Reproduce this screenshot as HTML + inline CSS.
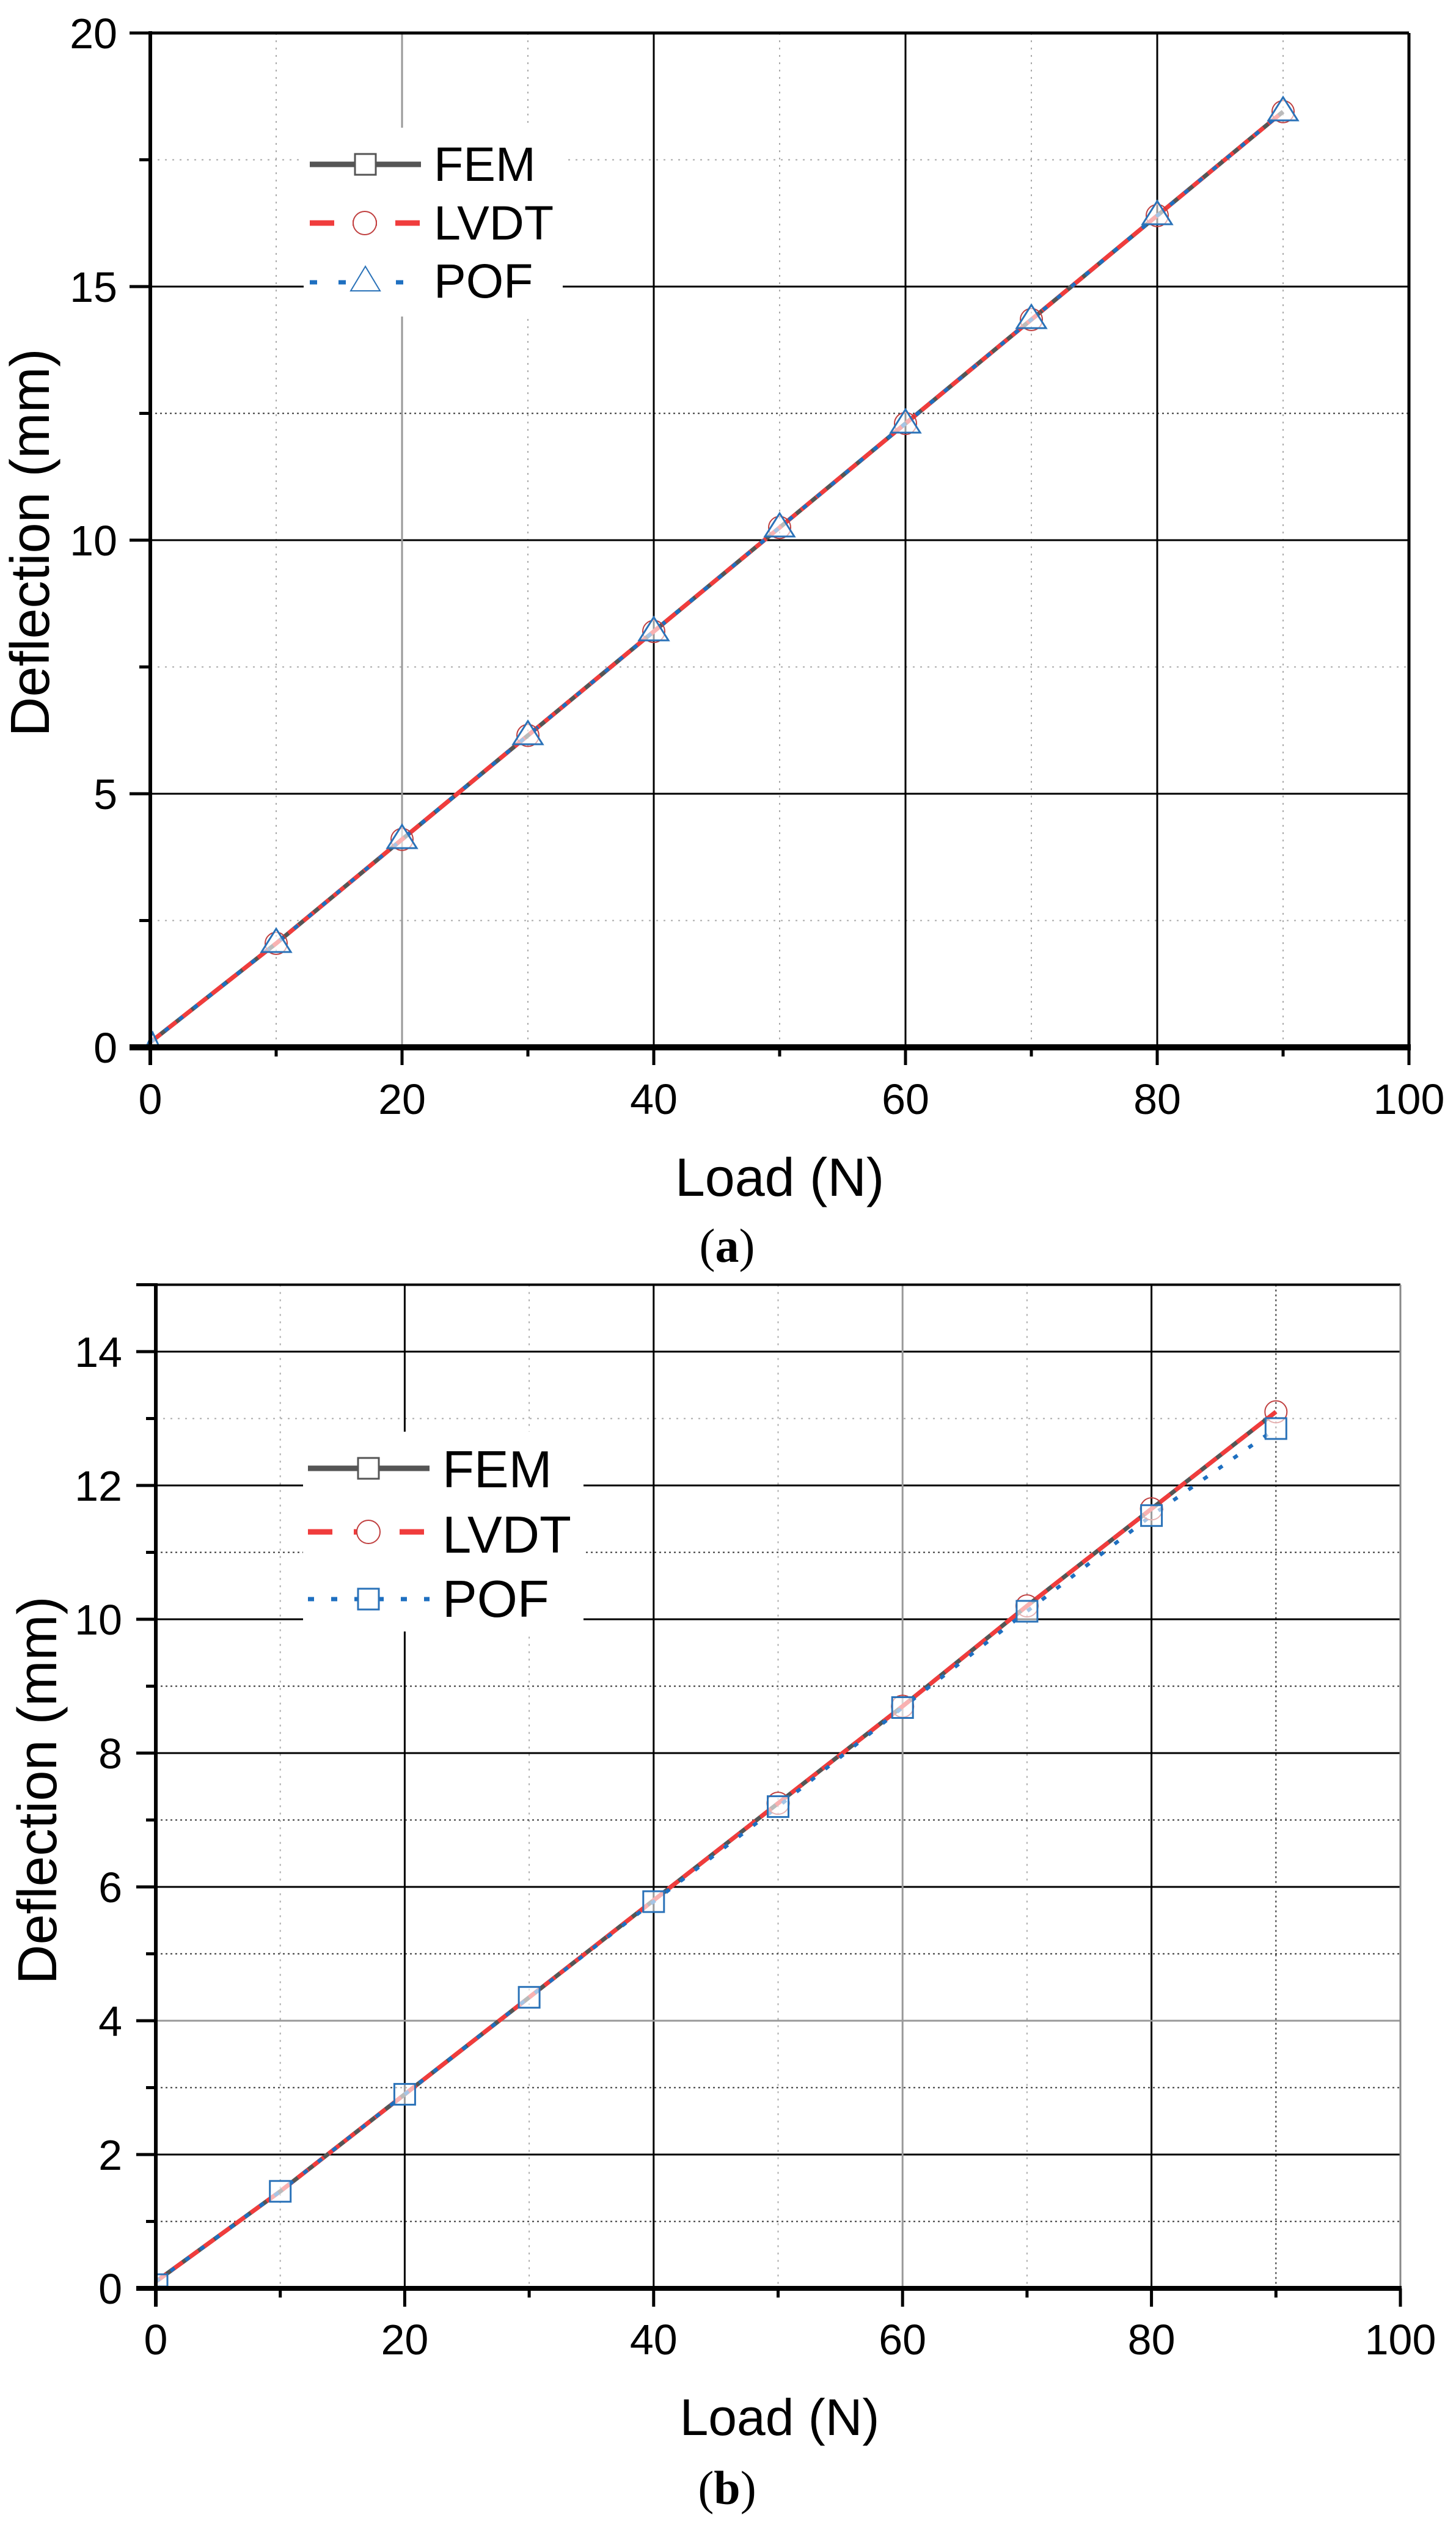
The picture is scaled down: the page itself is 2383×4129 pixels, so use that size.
<!DOCTYPE html>
<html><head><style>html,body{margin:0;padding:0;background:#fff}svg{display:block}</style></head>
<body>
<svg width="2383" height="4129" viewBox="0 0 2383 4129" xmlns="http://www.w3.org/2000/svg" font-family="Liberation Sans, Arial, sans-serif">
<rect width="2383" height="4129" fill="#fff"/>
<!-- ========== PLOT A ========== -->
<g>
<g stroke="#aaa" stroke-width="2" stroke-dasharray="3,9">
<line x1="452" y1="54" x2="452" y2="1714"/><line x1="864" y1="54" x2="864" y2="1714"/><line x1="1276" y1="54" x2="1276" y2="1714"/><line x1="1688" y1="54" x2="1688" y2="1714"/><line x1="2100" y1="54" x2="2100" y2="1714"/>
<line x1="246" y1="1506.5" x2="2306" y2="1506.5"/><line x1="246" y1="1091.5" x2="2306" y2="1091.5"/><line x1="246" y1="261.5" x2="2306" y2="261.5"/>
</g>
<line x1="246" y1="676.5" x2="2306" y2="676.5" stroke="#333" stroke-width="2" stroke-dasharray="3,5"/>
<g stroke="#000" stroke-width="3">
<line x1="1070" y1="54" x2="1070" y2="1714"/><line x1="1482" y1="54" x2="1482" y2="1714"/><line x1="1894" y1="54" x2="1894" y2="1714"/>
<line x1="246" y1="1299" x2="2306" y2="1299"/><line x1="246" y1="884" x2="2306" y2="884"/><line x1="246" y1="469" x2="2306" y2="469"/>
</g>
<line x1="658" y1="54" x2="658" y2="1714" stroke="#999" stroke-width="3"/>
<rect x="497" y="209" width="424" height="309" fill="#fff"/>
<polyline fill="none" stroke="#555" stroke-width="7" points="246,1705.7 452,1543.9 658,1373.7 864,1203.6 1070,1033.4 1276,863.3 1482,693.1 1688,523 1894,352.8 2100,182.7"/>
<polyline fill="none" stroke="#f03c3c" stroke-width="7" stroke-dasharray="22,10" points="246,1705.7 452,1543.9 658,1373.7 864,1203.6 1070,1033.4 1276,863.3 1482,693.1 1688,523 1894,352.8 2100,182.7"/>
<polyline fill="none" stroke="#1e6fc0" stroke-width="6" stroke-dasharray="8,22" points="246,1705.7 452,1543.9 658,1373.7 864,1203.6 1070,1033.4 1276,863.3 1482,693.1 1688,523 1894,352.8 2100,182.7"/>
<g fill="none" stroke="#c04040" stroke-width="2">
<circle cx="452" cy="1543.9" r="18"/><circle cx="658" cy="1373.7" r="18"/><circle cx="864" cy="1203.6" r="18"/><circle cx="1070" cy="1033.4" r="18"/><circle cx="1276" cy="863.3" r="18"/><circle cx="1482" cy="693.1" r="18"/><circle cx="1688" cy="523" r="18"/><circle cx="1894" cy="352.8" r="18"/><circle cx="2100" cy="182.7" r="18"/>
</g>
<g fill="rgba(255,255,255,0.6)" stroke="#2a72b8" stroke-width="3">
<polygon points="452,1520 428,1558 476,1558"/><polygon points="658,1350 634,1388 682,1388"/><polygon points="864,1180 840,1218 888,1218"/><polygon points="1070,1010 1046,1048 1094,1048"/><polygon points="1276,840 1252,878 1300,878"/><polygon points="1482,670 1458,708 1506,708"/><polygon points="1688,499 1664,537 1712,537"/><polygon points="1894,329 1870,367 1918,367"/><polygon points="2100,159 2076,197 2124,197"/>
<polygon points="250,1690 240,1712 260,1712"/>
</g>
<line x1="507" y1="269" x2="689" y2="269" stroke="#555" stroke-width="9"/>
<rect x="581" y="252" width="34" height="34" fill="#fff" stroke="#555" stroke-width="3"/>
<line x1="507" y1="365" x2="689" y2="365" stroke="#f03c3c" stroke-width="9" stroke-dasharray="40,30"/>
<circle cx="597" cy="365" r="19" fill="#fff" stroke="#c04040" stroke-width="2"/>
<line x1="507" y1="462" x2="689" y2="462" stroke="#1e6fc0" stroke-width="7" stroke-dasharray="12,35"/>
<polygon points="598,436 574,476 622,476" fill="#fff" stroke="#2a72b8" stroke-width="2"/>
<g font-size="79" fill="#000"><text x="710" y="296">FEM</text><text x="710" y="392">LVDT</text><text x="710" y="487">POF</text></g>
<g stroke="#000">
<line x1="246" y1="54" x2="2306" y2="54" stroke-width="5"/>
<line x1="2306" y1="54" x2="2306" y2="1714" stroke-width="5"/>
<line x1="246" y1="51" x2="246" y2="1743" stroke-width="6"/>
<line x1="212" y1="1714" x2="2309" y2="1714" stroke-width="10"/>
<g stroke-width="5">
<line x1="212" y1="54" x2="246" y2="54"/><line x1="212" y1="469" x2="246" y2="469"/><line x1="212" y1="884" x2="246" y2="884"/><line x1="212" y1="1299" x2="246" y2="1299"/>
<line x1="228" y1="261.5" x2="246" y2="261.5"/><line x1="228" y1="676.5" x2="246" y2="676.5"/><line x1="228" y1="1091.5" x2="246" y2="1091.5"/><line x1="228" y1="1506.5" x2="246" y2="1506.5"/>
<line x1="658" y1="1714" x2="658" y2="1743"/><line x1="1070" y1="1714" x2="1070" y2="1743"/><line x1="1482" y1="1714" x2="1482" y2="1743"/><line x1="1894" y1="1714" x2="1894" y2="1743"/><line x1="2306" y1="1714" x2="2306" y2="1743"/>
<line x1="452" y1="1714" x2="452" y2="1729"/><line x1="864" y1="1714" x2="864" y2="1729"/><line x1="1276" y1="1714" x2="1276" y2="1729"/><line x1="1688" y1="1714" x2="1688" y2="1729"/><line x1="2100" y1="1714" x2="2100" y2="1729"/>
</g></g>
<g font-size="70" fill="#000" text-anchor="end">
<text x="192" y="79">20</text><text x="192" y="494">15</text><text x="192" y="909">10</text><text x="192" y="1324">5</text><text x="192" y="1739">0</text>
</g>
<g font-size="70" fill="#000" text-anchor="middle">
<text x="246" y="1823">0</text><text x="658" y="1823">20</text><text x="1070" y="1823">40</text><text x="1482" y="1823">60</text><text x="1894" y="1823">80</text><text x="2306" y="1823">100</text>
</g>
<text x="1276" y="1957" font-size="88" text-anchor="middle">Load (N)</text>
<text transform="translate(80,888) rotate(-90)" font-size="90" text-anchor="middle">Deflection (mm)</text>
<text x="1190" y="2065" font-size="78" text-anchor="middle" font-family="Liberation Serif, serif">(<tspan font-weight="bold">a</tspan>)</text>
</g>

<!-- ========== PLOT B ========== -->
<g>
<g stroke="#aaa" stroke-width="2" stroke-dasharray="3,9">
<line x1="458.7" y1="2102.5" x2="458.7" y2="3745"/><line x1="866.1" y1="2102.5" x2="866.1" y2="3745"/><line x1="1273.5" y1="2102.5" x2="1273.5" y2="3745"/><line x1="1680.9" y1="2102.5" x2="1680.9" y2="3745"/>
<line x1="255" y1="2321.5" x2="2292" y2="2321.5"/>
</g>
<g stroke="#333" stroke-width="2" stroke-dasharray="3,5">
<line x1="2088.3" y1="2102.5" x2="2088.3" y2="3745"/>
<line x1="255" y1="3635.5" x2="2292" y2="3635.5"/><line x1="255" y1="3416.5" x2="2292" y2="3416.5"/><line x1="255" y1="3197.5" x2="2292" y2="3197.5"/><line x1="255" y1="2978.5" x2="2292" y2="2978.5"/><line x1="255" y1="2759.5" x2="2292" y2="2759.5"/><line x1="255" y1="2540.5" x2="2292" y2="2540.5"/>
</g>
<g stroke="#000" stroke-width="3">
<line x1="662.4" y1="2102.5" x2="662.4" y2="3745"/><line x1="1069.8" y1="2102.5" x2="1069.8" y2="3745"/><line x1="1884.6" y1="2102.5" x2="1884.6" y2="3745"/>
<line x1="255" y1="3526" x2="2292" y2="3526"/><line x1="255" y1="3088" x2="2292" y2="3088"/><line x1="255" y1="2869" x2="2292" y2="2869"/><line x1="255" y1="2650" x2="2292" y2="2650"/><line x1="255" y1="2431" x2="2292" y2="2431"/><line x1="255" y1="2212" x2="2292" y2="2212"/>
</g>
<g stroke="#999" stroke-width="3">
<line x1="1477.2" y1="2102.5" x2="1477.2" y2="3745"/><line x1="255" y1="3307" x2="2292" y2="3307"/>
</g>
<rect x="496" y="2343" width="459" height="327" fill="#fff"/>
<polyline fill="none" stroke="#555" stroke-width="7" points="255,3734 458.7,3586.2 662.4,3427.4 866.1,3268.7 1069.8,3109.9 1273.5,2951.1 1477.2,2792.4 1680.9,2628.1 1884.6,2469.3 2088.3,2310.5"/>
<polyline fill="none" stroke="#f03c3c" stroke-width="7" stroke-dasharray="22,10" points="255,3734 458.7,3586.2 662.4,3427.4 866.1,3268.7 1069.8,3109.9 1273.5,2951.1 1477.2,2792.4 1680.9,2628.1 1884.6,2469.3 2088.3,2310.5"/>
<polyline fill="none" stroke="#1e6fc0" stroke-width="6" stroke-dasharray="8,22" points="255,3734 458.7,3586.2 662.4,3427.4 866.1,3268.7 1069.8,3112.1 1273.5,2956.6 1477.2,2794.5 1680.9,2636.9 1884.6,2480.3 2088.3,2337.9"/>
<g fill="none" stroke="#c04040" stroke-width="2">
<circle cx="1273.5" cy="2951.1" r="18"/><circle cx="1477.2" cy="2792.4" r="18"/><circle cx="1680.9" cy="2628.1" r="18"/><circle cx="1884.6" cy="2469.3" r="18"/><circle cx="2088.3" cy="2310.5" r="18"/>
</g>
<g fill="rgba(255,255,255,0.6)" stroke="#2a72b8" stroke-width="3">
<rect x="441.7" y="3569.2" width="34" height="34"/><rect x="645.4" y="3410.4" width="34" height="34"/><rect x="849.1" y="3251.7" width="34" height="34"/><rect x="1052.8" y="3095.1" width="34" height="34"/><rect x="1256.5" y="2939.6" width="34" height="34"/><rect x="1460.2" y="2777.5" width="34" height="34"/><rect x="1663.9" y="2619.9" width="34" height="34"/><rect x="1867.6" y="2463.3" width="34" height="34"/><rect x="2071.3" y="2320.9" width="34" height="34"/>
<rect x="256" y="3722" width="18" height="20"/>
</g>
<line x1="504" y1="2403" x2="703" y2="2403" stroke="#555" stroke-width="9"/>
<rect x="586" y="2386" width="34" height="34" fill="#fff" stroke="#555" stroke-width="3"/>
<line x1="504" y1="2507" x2="703" y2="2507" stroke="#f03c3c" stroke-width="9" stroke-dasharray="40,35"/>
<circle cx="603" cy="2507" r="19" fill="#fff" stroke="#c04040" stroke-width="2"/>
<line x1="504" y1="2617" x2="703" y2="2617" stroke="#1e6fc0" stroke-width="7" stroke-dasharray="10,28"/>
<rect x="586" y="2600" width="34" height="34" fill="#fff" stroke="#2a72b8" stroke-width="3"/>
<g font-size="85" fill="#000"><text x="724" y="2434">FEM</text><text x="724" y="2541">LVDT</text><text x="724" y="2646">POF</text></g>
<g stroke="#000">
<line x1="255" y1="2102.5" x2="2292" y2="2102.5" stroke-width="4"/>
<line x1="2292" y1="2102.5" x2="2292" y2="3745" stroke="#888" stroke-width="3"/>
<line x1="255" y1="2100" x2="255" y2="3775" stroke-width="6"/>
<line x1="223" y1="3745" x2="2294" y2="3745" stroke-width="8"/>
<g stroke-width="5">
<line x1="223" y1="2102.5" x2="255" y2="2102.5"/><line x1="223" y1="2212" x2="255" y2="2212"/><line x1="223" y1="2431" x2="255" y2="2431"/><line x1="223" y1="2650" x2="255" y2="2650"/><line x1="223" y1="2869" x2="255" y2="2869"/><line x1="223" y1="3088" x2="255" y2="3088"/><line x1="223" y1="3307" x2="255" y2="3307"/><line x1="223" y1="3526" x2="255" y2="3526"/>
<line x1="239" y1="2321.5" x2="255" y2="2321.5"/><line x1="239" y1="2540.5" x2="255" y2="2540.5"/><line x1="239" y1="2759.5" x2="255" y2="2759.5"/><line x1="239" y1="2978.5" x2="255" y2="2978.5"/><line x1="239" y1="3197.5" x2="255" y2="3197.5"/><line x1="239" y1="3416.5" x2="255" y2="3416.5"/><line x1="239" y1="3635.5" x2="255" y2="3635.5"/>
<line x1="662.4" y1="3745" x2="662.4" y2="3775"/><line x1="1069.8" y1="3745" x2="1069.8" y2="3775"/><line x1="1477.2" y1="3745" x2="1477.2" y2="3775"/><line x1="1884.6" y1="3745" x2="1884.6" y2="3775"/><line x1="2292" y1="3745" x2="2292" y2="3775"/>
<line x1="458.7" y1="3745" x2="458.7" y2="3760"/><line x1="866.1" y1="3745" x2="866.1" y2="3760"/><line x1="1273.5" y1="3745" x2="1273.5" y2="3760"/><line x1="1680.9" y1="3745" x2="1680.9" y2="3760"/><line x1="2088.3" y1="3745" x2="2088.3" y2="3760"/>
</g></g>
<g font-size="70" fill="#000" text-anchor="end">
<text x="200" y="2237">14</text><text x="200" y="2456">12</text><text x="200" y="2675">10</text><text x="200" y="2894">8</text><text x="200" y="3113">6</text><text x="200" y="3332">4</text><text x="200" y="3551">2</text><text x="200" y="3770">0</text>
</g>
<g font-size="70" fill="#000" text-anchor="middle">
<text x="255" y="3853">0</text><text x="662.4" y="3853">20</text><text x="1069.8" y="3853">40</text><text x="1477.2" y="3853">60</text><text x="1884.6" y="3853">80</text><text x="2292" y="3853">100</text>
</g>
<text x="1276" y="3985" font-size="84" text-anchor="middle">Load (N)</text>
<text transform="translate(92,2930) rotate(-90)" font-size="90" text-anchor="middle">Deflection (mm)</text>
<text x="1190" y="4098" font-size="78" text-anchor="middle" font-family="Liberation Serif, serif">(<tspan font-weight="bold">b</tspan>)</text>
</g>
</svg>
</body></html>
